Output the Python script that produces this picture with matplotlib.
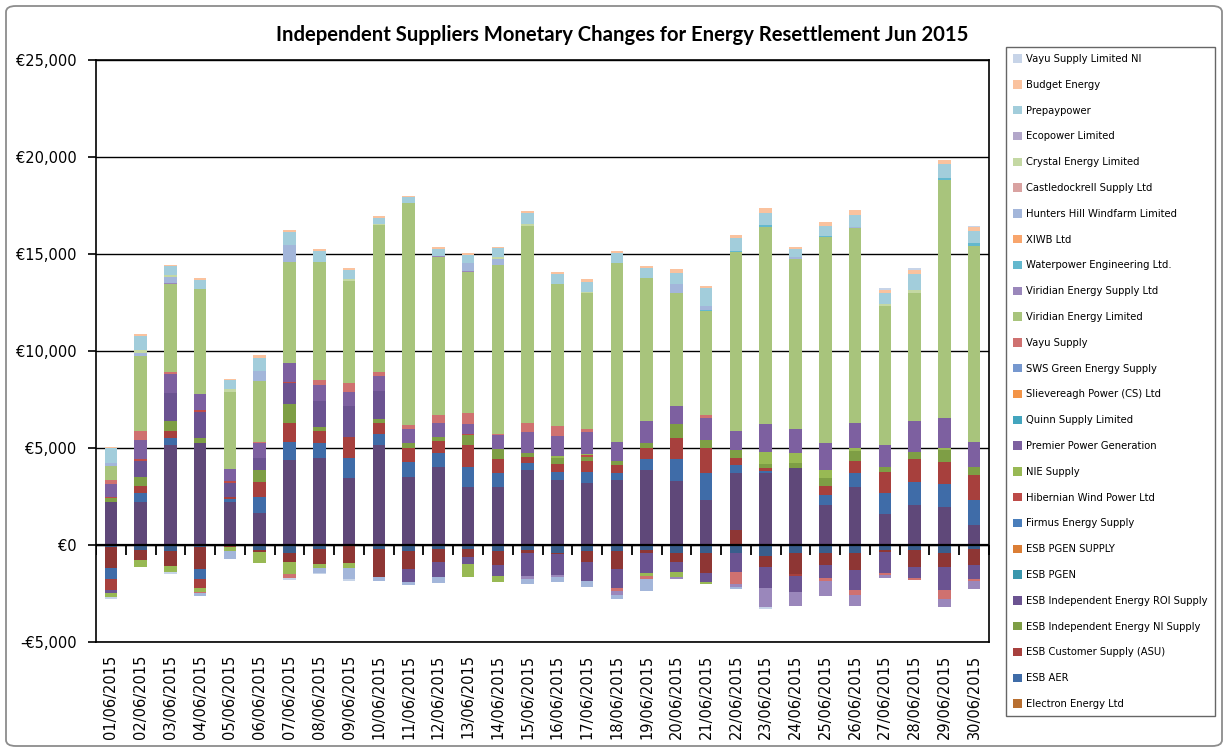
import matplotlib
matplotlib.use("Agg")
import matplotlib.pyplot as plt
import matplotlib.patches as mpatches
from matplotlib.ticker import FuncFormatter
import numpy as np

DATES = [f"{d:02d}/06/2015" for d in range(1, 31)]

# Daily amounts in euro, one list per supplier.
# Three series sit under the legend entries that Excel cut off at the bottom,
# they are drawn but have no legend row.
unlisted_1 = [-90, -260, -290, -120, 0, -260, -430, -210, 0, -210, -290, -210, -210, -290, -260,
              -400, -290, -290, -260, -430, -430, -430, -570, -430, -400, -400, -260, -260, -430, -220]
unlisted_2 = [-1080, -510, -790, -1130, -120, -80, -430, -790, -950, -1460, -960, -650, -390, -740, -140,
              -70, -570, -960, -140, -430, -1000, 770, -550, -1060, -630, -890, -80, -860, -690, -810]
unlisted_3 = [2230, 2230, 5150, 5240, 2230, 1670, 4380, 4500, 3470, 5150, 3520, 4040, 2970, 2970, 3870,
              3350, 3210, 3350, 3870, 3300, 2320, 2920, 3690, 3950, 2060, 2970, 1580, 2060, 1980, 1030]

electron = [0] * 30
esb_aer = [-580, 430, 340, -500, 150, 820, 950, 740, 1030, 570, 740, 720, 1030, 720, 340,
           430, 570, 340, 550, 1120, 1370, 430, 100, 0, 520, 720, 1080, 1200, 1150, 1290]
esb_customer = [-570, 400, 390, -480, 100, 740, 980, 650, 1080, 590, 720, 620, 1150, 730, 310,
                400, 550, 430, 560, 1080, 1290, 380, 160, -100, 480, 660, 1120, 1160, 1130, 1290]
esb_ind_ni = [170, 460, 500, 260, 0, 640, 960, 170, 0, 170, 260, 170, 520, 510, 240,
              290, 200, 230, 260, 720, 430, 400, 200, 260, 410, 510, 260, 390, 640, 430]
esb_ind_roi = [-140, 810, 1460, 1370, 740, 630, 1060, 1360, 1580, 1460, -640, -810, -400, -550, -1200,
               -1080, -980, -980, -1030, -550, -460, -980, -1110, -810, -690, -1030, -1120, -600, -1200, -740]
esb_pgen = [0] * 30
esb_pgen_supply = [0] * 30
firmus = [0] * 30
hibernian = [90, 90, 0, 90, 90, 0, 90, 0, 0, 0, 0, 0, 50, 0, 0,
             0, 90, 0, 0, 0, 0, 0, 0, 0, 0, 0, 0, 0, 0, 0]
nie = [-200, -350, -330, -170, -170, -570, -650, -170, -220, 0, 0, 0, -630, -340, 0,
       120, 90, 0, -170, -220, -120, 0, 660, 510, 400, 120, 0, 0, 100, 0]
premier = [640, 990, 1000, 810, 630, 740, 950, 830, 740, 790, 720, 760, 500, 740, 1050,
           1030, 1100, 980, 1150, 960, 1150, 990, 1410, 1240, 1370, 1330, 1110, 1580, 1530, 1290]
quinn = [0] * 30
slievereagh = [0] * 30
sws_green = [0] * 30
vayu = [220, 480, 80, -80, 0, 90, -210, 260, 430, 170, 230, 390, 570, 50, 500,
        510, 150, -120, -170, 0, 140, -600, 0, 0, -120, -260, -90, -90, -480, -70]
viridian_ltd = [740, 3850, 4520, 5430, 3950, 3120, 5240, 6090, 5290, 7600, 11420, 8150, 7300, 8710, 10150,
                7320, 7010, 9190, 7360, 5790, 5340, 9200, 10160, 8780, 10620, 10010, 7170, 6620, 12280, 10100]
viridian_supply = [0, 0, 80, 0, 0, 0, 0, 0, 0, 0, 0, 50, 50, 0, -170,
                   -80, 0, -230, 0, -140, 0, -140, -980, -730, -790, -560, -170, 0, -380, -440]
waterpower = [0, 0, 0, 0, 0, 0, 0, 0, 0, 0, 0, 0, 0, 0, 0,
              0, 0, 0, 0, 0, 60, 80, 120, 0, 90, 0, 0, 0, 90, 120]
xiwb = [0] * 30
hunters_hill = [150, 140, 300, -140, -450, 540, 860, -260, -600, -170, -170, -270, 380, 330, -260,
                -260, -340, -220, -580, 480, 220, -140, 0, 90, 0, 90, 0, 0, 0, 0]
castledockrell = [0] * 30
crystal = [0, 170, 80, 0, 140, 0, 0, 0, 70, 50, 0, 0, 0, 70, 90,
           0, 90, 0, 0, 0, 0, 0, 0, 0, 0, 0, 90, 140, 0, 0]
ecopower = [0] * 30
prepaypower = [740, 720, 470, 470, 470, 670, 680, 570, 490, 320, 310, 340, 430, 460, 550,
               520, 520, 520, 550, 590, 910, 640, 600, 410, 510, 600, 560, 800, 740, 650]
budget = [90, 110, 50, 90, 80, 130, 90, 70, 80, 90, 90, 140, 120, 90, 120,
          120, 110, 130, 100, 170, 140, 170, 250, 140, 170, 260, 180, 230, 210, 180]
vayu_ni = [-100, 0, -80, 0, 0, 0, -80, -80, -70, 0, 0, 0, 0, 0, 0,
           0, 0, 0, 0, 0, 0, 0, -70, 0, 0, 0, 80, 80, 0, 80]

# stacking order, bottom first (legend shows it reversed)
UNLISTED = [
    (unlisted_1, "#395E8C"),
    (unlisted_2, "#8E3634"),
    (unlisted_3, "#5F4879"),
]

SERIES = [
    ("Electron Energy Ltd", electron, "#B86F30"),
    ("ESB AER", esb_aer, "#3F6CA8"),
    ("ESB Customer Supply (ASU)", esb_customer, "#A7403D"),
    ("ESB Independent Energy NI Supply", esb_ind_ni, "#7E9E45"),
    ("ESB Independent Energy ROI Supply", esb_ind_roi, "#6B5391"),
    ("ESB PGEN", esb_pgen, "#3A97AD"),
    ("ESB PGEN SUPPLY", esb_pgen_supply, "#DB7E35"),
    ("Firmus Energy Supply", firmus, "#4A7EBB"),
    ("Hibernian Wind Power Ltd", hibernian, "#BD4B48"),
    ("NIE Supply", nie, "#98B954"),
    ("Premier Power Generation", premier, "#7D60A0"),
    ("Quinn Supply Limited", quinn, "#43A5BE"),
    ("Slievereagh Power (CS) Ltd", slievereagh, "#F39447"),
    ("SWS Green Energy Supply", sws_green, "#7698CF"),
    ("Vayu Supply", vayu, "#CF7170"),
    ("Viridian Energy Limited", viridian_ltd, "#A8C47C"),
    ("Viridian Energy Supply Ltd", viridian_supply, "#9A87BB"),
    ("Waterpower Engineering Ltd.", waterpower, "#63B8CE"),
    ("XIWB Ltd", xiwb, "#F8A56C"),
    ("Hunters Hill Windfarm Limited", hunters_hill, "#A3B6DA"),
    ("Castledockrell Supply Ltd", castledockrell, "#D9A2A1"),
    ("Crystal Energy Limited", crystal, "#C4D8A3"),
    ("Ecopower Limited", ecopower, "#B3A7CA"),
    ("Prepaypower", prepaypower, "#A2CDDB"),
    ("Budget Energy", budget, "#FAC29E"),
    ("Vayu Supply Limited NI", vayu_ni, "#C7D4E8"),
]

W, H = 1227, 751


def euro(v, _):
    return f"€{v:,.0f}" if v >= 0 else f"-€{-v:,.0f}"


def main():
    fig = plt.figure(figsize=(W / 100, H / 100), dpi=100)
    fig.patch.set_facecolor("white")

    # outer chart frame
    frame = mpatches.FancyBboxPatch((6 / W, 5 / H), 1216 / W, 740 / H,
                                    boxstyle="round,pad=0,rounding_size=0.008",
                                    transform=fig.transFigure, facecolor="none",
                                    edgecolor="#8c8c8c", linewidth=1.3)
    fig.patches.append(frame)

    ax = fig.add_axes([96 / W, 1 - 642 / H, (989 - 96) / W, (642 - 60) / H])
    x = np.arange(len(DATES))
    pos_base = np.zeros(len(DATES))
    neg_base = np.zeros(len(DATES))
    stack = [(v, c) for v, c in UNLISTED] + [(v, c) for _, v, c in SERIES]
    for values, color in stack:
        v = np.asarray(values, dtype=float)
        pos = np.clip(v, 0, None)
        neg = np.clip(v, None, 0)
        ax.bar(x, pos, 0.42, bottom=pos_base, color=color, linewidth=0, zorder=3)
        ax.bar(x, neg, 0.42, bottom=neg_base, color=color, linewidth=0, zorder=3)
        pos_base += pos
        neg_base += neg

    ax.set_xlim(-0.5, len(DATES) - 0.5)
    ax.set_ylim(-5000, 25000)
    ax.set_yticks(np.arange(-5000, 25001, 5000))
    ax.yaxis.set_major_formatter(FuncFormatter(euro))
    ax.yaxis.grid(True, color="black", linewidth=1.0, zorder=1)
    ax.set_axisbelow(True)
    ax.tick_params(axis="y", labelsize=10.5, length=6, width=1.2, pad=8, direction="out")

    ax.set_xticks(x)
    ax.set_xticklabels(DATES, rotation=90, fontsize=10.5)
    ax.tick_params(axis="x", length=0, pad=9)

    # horizontal axis crosses at zero, tick marks between categories
    ax.axhline(0, color="black", linewidth=1.6, zorder=4)
    bounds = np.arange(len(DATES) + 1) - 0.5
    ax.plot(bounds, np.zeros_like(bounds), linestyle="none", marker=3, markersize=7,
            markeredgewidth=1.3, color="black", zorder=4)

    for spine in ax.spines.values():
        spine.set_color("black")
        spine.set_linewidth(1.2)

    fig.text(622 / W, 1 - 35 / H,
             "Independent Suppliers Monetary Changes for Energy Resettlement Jun 2015",
             ha="center", va="center", fontsize=14.6, fontweight="bold", family="Lato")

    handles = [mpatches.Patch(facecolor=c, edgecolor="none", label=n) for n, _, c in SERIES][::-1]
    leg = fig.legend(handles=handles, loc="upper left",
                     bbox_to_anchor=(1006 / W, 1 - 47 / H), bbox_transform=fig.transFigure,
                     fontsize=7.2, handlelength=0.9, handleheight=0.9, handletextpad=0.4,
                     labelspacing=1.58, borderpad=0.7, borderaxespad=0,
                     fancybox=False, frameon=True)
    leg.get_frame().set_edgecolor("#404040")
    leg.get_frame().set_linewidth(1.0)

    fig.savefig("out.png", dpi=100, facecolor="white")


if __name__ == "__main__":
    main()
